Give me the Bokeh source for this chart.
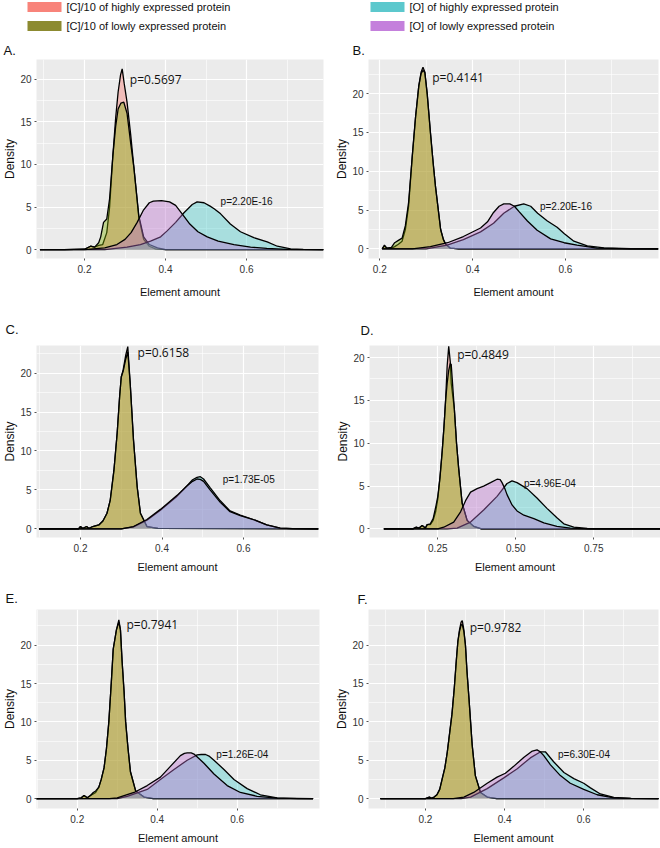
from bokeh.plotting import figure
from bokeh.layouts import column, row
from bokeh.models import Range1d, FixedTicker, PrintfTickFormatter, Label
from bokeh.core.properties import value
from bokeh.embed import file_html
from bokeh.resources import INLINE

SERIES = ["[C]/10 of highly expressed protein", "[C]/10 of lowly expressed protein",
          "[O] of highly expressed protein", "[O] of lowly expressed protein"]
FILL = ["#F8766D", "#7CAE00", "#2CC6C6", "#B96ECD"]
ALPHA = [0.4, 0.4, 0.35, 0.4]
SWATCH = ["#F8837A", "#8C8A30", "#5CC8CD", "#C480DC"]

# ---------------- Panel A ----------------
a_ch_x = [0.09, 0.15, 0.20, 0.215, 0.225, 0.235, 0.245, 0.255, 0.262, 0.27, 0.277, 0.283, 0.289, 0.293, 0.298, 0.305, 0.314, 0.322, 0.334, 0.346, 0.36, 0.375, 0.40, 0.79]
a_ch_y = [0, 0, 0.05, 0.4, 0.3, 0.5, 0.6, 2.0, 5.0, 11.0, 15.5, 18.5, 20.5, 21.2, 19.5, 17.3, 13.5, 9.6, 3.8, 1.2, 0.4, 0.1, 0, 0]
a_cl_x = [0.09, 0.15, 0.20, 0.215, 0.225, 0.235, 0.24, 0.247, 0.255, 0.262, 0.27, 0.277, 0.283, 0.29, 0.297, 0.305, 0.314, 0.322, 0.334, 0.346, 0.36, 0.38, 0.40, 0.79]
a_cl_y = [0, 0, 0.05, 0.4, 0.3, 0.8, 1.5, 3.2, 3.6, 6.0, 11.0, 14.5, 16.5, 17.2, 17.3, 16.0, 12.5, 9.6, 4.0, 1.5, 0.6, 0.2, 0, 0]
a_oh_x = [0.09, 0.25, 0.305, 0.338, 0.363, 0.388, 0.404, 0.425, 0.445, 0.466, 0.478, 0.495, 0.51, 0.52, 0.536, 0.56, 0.585, 0.618, 0.651, 0.676, 0.709, 0.74, 0.79]
a_oh_y = [0, 0, 0.3, 0.6, 1.0, 1.5, 2.2, 3.2, 4.3, 5.3, 5.6, 5.5, 5.1, 4.8, 4.2, 3.0, 2.1, 1.4, 0.9, 0.4, 0.1, 0.02, 0]
a_ol_x = [0.09, 0.2, 0.25, 0.28, 0.3, 0.315, 0.33, 0.345, 0.36, 0.37, 0.39, 0.41, 0.425, 0.441, 0.46, 0.48, 0.503, 0.53, 0.569, 0.61, 0.65, 0.7, 0.79]
a_ol_y = [0, 0, 0.2, 0.6, 1.2, 2.0, 3.2, 4.6, 5.5, 5.7, 5.75, 5.6, 5.2, 4.2, 3.0, 2.1, 1.5, 1.0, 0.6, 0.3, 0.15, 0.03, 0]

# ---------------- Panel B ----------------
b_c_x = [0.205, 0.21, 0.215, 0.225, 0.232, 0.24, 0.248, 0.255, 0.262, 0.27, 0.277, 0.284, 0.289, 0.293, 0.297, 0.302, 0.309, 0.315, 0.32, 0.326, 0.331, 0.337, 0.342, 0.352, 0.37, 0.8]
b_ch_y = [0, 0.4, 0.1, 0.1, 0.3, 0.6, 1.0, 2.5, 5.5, 12, 17, 21, 22.8, 23.4, 22.8, 20, 15, 11, 8, 5, 2.5, 1.2, 0.6, 0.1, 0, 0]
b_cl_y = [0, 0.5, 0.1, 0.2, 0.8, 1.1, 1.4, 3.0, 6.0, 12, 17, 21, 22.6, 23.0, 22.7, 20, 15, 11, 8, 5, 2.5, 1.2, 0.6, 0.1, 0, 0]
b_oh_x = [0.205, 0.3, 0.345, 0.38, 0.417, 0.445, 0.467, 0.49, 0.51, 0.525, 0.54, 0.561, 0.582, 0.597, 0.618, 0.647, 0.683, 0.74, 0.8]
b_oh_y = [0, 0, 0.5, 1.2, 2.2, 3.3, 4.6, 5.5, 5.8, 5.5, 4.6, 3.6, 2.8, 2.0, 1.0, 0.4, 0.15, 0.03, 0]
b_ol_x = [0.205, 0.27, 0.309, 0.346, 0.38, 0.417, 0.432, 0.445, 0.457, 0.467, 0.48, 0.49, 0.5, 0.518, 0.539, 0.568, 0.597, 0.625, 0.668, 0.74, 0.8]
b_ol_y = [0, 0, 0.3, 0.8, 1.6, 2.7, 3.5, 4.7, 5.5, 5.8, 5.8, 5.5, 4.8, 3.6, 2.4, 1.3, 0.8, 0.5, 0.1, 0.02, 0]

# ---------------- Panel C ----------------
c_c_x = [0.098, 0.195, 0.2, 0.205, 0.215, 0.22, 0.23, 0.245, 0.255, 0.265, 0.273, 0.282, 0.29, 0.296, 0.3, 0.305, 0.311, 0.316, 0.322, 0.33, 0.339, 0.347, 0.363, 0.39, 0.784]
c_ch_y = [0, 0, 0.3, 0.05, 0.3, 0.05, 0.3, 0.5, 1.0, 2.0, 3.7, 7.5, 12.3, 17, 19.5, 20.5, 22.3, 23.4, 18.6, 11.4, 5.4, 2.0, 0.3, 0.05, 0]
c_cl_y = [0, 0, 0.3, 0.05, 0.3, 0.05, 0.3, 0.5, 1.0, 2.0, 3.7, 7.5, 12.3, 17, 19.5, 20.3, 21.8, 22.7, 18.6, 11.4, 5.4, 2.0, 0.3, 0.05, 0]
c_o_x = [0.098, 0.3, 0.33, 0.363, 0.396, 0.412, 0.437, 0.461, 0.475, 0.486, 0.494, 0.502, 0.518, 0.543, 0.567, 0.592, 0.624, 0.657, 0.69, 0.72, 0.784]
c_oh_y = [0, 0, 0.25, 1.1, 2.4, 3.1, 4.2, 5.5, 6.3, 6.6, 6.7, 6.4, 5.3, 3.6, 2.3, 1.75, 1.2, 0.5, 0.1, 0.02, 0]
c_ol_y = [0, 0, 0.3, 1.2, 2.5, 3.2, 4.3, 5.5, 6.1, 6.4, 6.35, 6.1, 5.0, 3.4, 2.2, 1.7, 1.2, 0.5, 0.1, 0.02, 0]

# ---------------- Panel D ----------------
d_c_x = [0.077, 0.17, 0.18, 0.19, 0.2, 0.21, 0.216, 0.226, 0.235, 0.243, 0.25, 0.257, 0.264, 0.27, 0.275, 0.28, 0.285, 0.29, 0.293, 0.303, 0.31, 0.317, 0.328, 0.344, 0.365, 0.39, 0.965]
d_ch_y = [0, 0, 0.2, 0.1, 0.4, 0.1, 0.5, 0.5, 1.0, 2.0, 3.5, 6, 9, 12, 15, 19, 21.3, 19.5, 17, 14, 10, 7, 3, 1, 0.3, 0, 0]
d_cl_y = [0, 0, 0.2, 0.1, 0.4, 0.1, 0.5, 0.6, 1.2, 2.5, 3.8, 6, 9, 12, 15, 17, 18.5, 19.3, 19.2, 14, 10, 7, 3, 1, 0.3, 0, 0]
d_oh_x = [0.077, 0.28, 0.312, 0.355, 0.397, 0.44, 0.472, 0.488, 0.504, 0.536, 0.568, 0.6, 0.632, 0.654, 0.686, 0.729, 0.8, 0.965]
d_oh_y = [0, 0, 0.1, 0.8, 2.2, 3.8, 5.3, 5.6, 5.4, 4.7, 3.6, 2.4, 1.3, 0.6, 0.2, 0.05, 0, 0]
d_ol_x = [0.077, 0.25, 0.269, 0.301, 0.323, 0.339, 0.355, 0.376, 0.397, 0.419, 0.44, 0.45, 0.456, 0.465, 0.472, 0.488, 0.504, 0.526, 0.558, 0.59, 0.632, 0.675, 0.739, 0.965]
d_ol_y = [0, 0, 0.2, 0.8, 2.0, 3.3, 4.3, 4.7, 5.0, 5.4, 5.8, 5.75, 5.4, 4.7, 4.0, 2.8, 2.1, 1.6, 1.2, 0.7, 0.3, 0.1, 0, 0]

# ---------------- Panel E ----------------
e_c_x = [0.096, 0.2, 0.21, 0.217, 0.225, 0.233, 0.24, 0.246, 0.254, 0.26, 0.267, 0.273, 0.279, 0.285, 0.29, 0.298, 0.304, 0.308, 0.312, 0.317, 0.321, 0.327, 0.333, 0.346, 0.367, 0.39, 0.79]
e_ch_y = [0, 0, 0.1, 0.4, 0.1, 0.4, 0.6, 0.8, 1.5, 2.5, 4, 6.5, 10, 15, 19.5, 22, 23.3, 22, 18, 14, 10, 6.5, 3.5, 1, 0.2, 0, 0]
e_cl_y = [0, 0, 0.1, 0.4, 0.1, 0.4, 0.8, 1.0, 1.5, 2.5, 4, 6.5, 10, 15, 19.5, 22, 23.0, 22, 18, 14, 10, 6.5, 3.5, 1, 0.2, 0, 0]
e_oh_x = [0.096, 0.3, 0.325, 0.375, 0.408, 0.442, 0.475, 0.5, 0.51, 0.521, 0.531, 0.542, 0.567, 0.592, 0.625, 0.658, 0.7, 0.75, 0.79]
e_oh_y = [0, 0, 0.3, 1.2, 2.5, 3.8, 5.0, 5.7, 5.75, 5.75, 5.5, 5.0, 3.8, 2.5, 1.3, 0.5, 0.1, 0.01, 0]
e_ol_x = [0.096, 0.28, 0.3, 0.342, 0.375, 0.408, 0.433, 0.458, 0.468, 0.475, 0.485, 0.492, 0.505, 0.517, 0.542, 0.575, 0.608, 0.65, 0.7, 0.79]
e_ol_y = [0, 0, 0.1, 0.8, 1.7, 2.8, 4.2, 5.6, 5.9, 5.95, 5.95, 5.8, 5.2, 4.6, 3.2, 1.7, 0.8, 0.3, 0.05, 0]

# ---------------- Panel F ----------------
f_c_x = [0.086, 0.2, 0.21, 0.215, 0.222, 0.229, 0.236, 0.242, 0.249, 0.255, 0.261, 0.267, 0.273, 0.278, 0.282, 0.286, 0.29, 0.293, 0.297, 0.301, 0.305, 0.31, 0.318, 0.326, 0.339, 0.356, 0.38, 0.79]
f_ch_y = [0, 0, 0.2, 0.05, 0.2, 0.5, 1.2, 2.5, 4, 6, 8.5, 11, 14.5, 18, 20.5, 22, 23.0, 23.2, 22, 20, 16.5, 13, 7, 3, 0.8, 0.2, 0, 0]
f_cl_y = [0, 0, 0.2, 0.05, 0.2, 0.5, 1.2, 2.5, 4, 6, 8.5, 11, 14.5, 18, 20.5, 21.8, 22.6, 22.7, 21.8, 20, 16.5, 13, 7, 3, 0.8, 0.2, 0, 0]
f_oh_x = [0.086, 0.29, 0.314, 0.356, 0.398, 0.432, 0.465, 0.491, 0.503, 0.524, 0.55, 0.575, 0.6, 0.617, 0.642, 0.676, 0.718, 0.79]
f_oh_y = [0, 0, 0.2, 1.3, 2.7, 3.9, 5.3, 6.1, 6.1, 4.8, 3.4, 2.6, 2.0, 1.4, 0.6, 0.15, 0.03, 0]
f_ol_x = [0.086, 0.27, 0.297, 0.322, 0.356, 0.381, 0.402, 0.423, 0.449, 0.47, 0.482, 0.49, 0.499, 0.516, 0.541, 0.566, 0.6, 0.634, 0.676, 0.72, 0.79]
f_ol_y = [0, 0, 0.2, 0.8, 2.0, 2.8, 3.3, 4.2, 5.4, 6.2, 6.35, 6.1, 5.6, 4.4, 3.0, 2.0, 1.2, 0.5, 0.1, 0.02, 0]

# p-values (C test, O test)
p_labels = {
    "A": ["p=0.5697", "p=2.20E-16"],
    "B": ["p=0.4141", "p=2.20E-16"],
    "C": ["p=0.6158", "p=1.73E-05"],
    "D": ["p=0.4849", "p=4.96E-04"],
    "E": ["p=0.7941", "p=1.26E-04"],
    "F": ["p=0.9782", "p=6.30E-04"],
}

x_ticks_01 = [0.2, 0.4, 0.6]
x_minor_01 = [0.1, 0.3, 0.5, 0.7]
x_ticks_d = [0.25, 0.50, 0.75]
x_minor_d = [0.125, 0.375, 0.625, 0.875]
y_ticks = [0, 5, 10, 15, 20]
y_minor = [2.5, 7.5, 12.5, 17.5, 22.5]

TICK_FONT = "Liberation Sans"
LABEL_FONT = "Liberation Sans"

# geometry: w,h figure size; l,r,t,b borders; toff/tst title offset/standoff; xs x-label standoff
panels = [
    dict(key="A", curves=[(a_ch_x, a_ch_y), (a_cl_x, a_cl_y), (a_oh_x, a_oh_y), (a_ol_x, a_ol_y)],
         xr=(0.0815, 0.790), yr=(-1.04, 22.31), xt=(x_ticks_01, x_minor_01, "%.1f"),
         pxy=[(0.312, 20.0), (0.536, 5.6)],
         geo=dict(w=332, h=262, l=36, r=9, t=19, b=41, toff=-33, tst=4, xs=10)),
    dict(key="B", curves=[(b_c_x, b_ch_y), (b_c_x, b_cl_y), (b_oh_x, b_oh_y), (b_ol_x, b_ol_y)],
         xr=(0.1756, 0.8004), yr=(-1.23, 24.4), xt=(x_ticks_01, x_minor_01, "%.1f"),
         pxy=[(0.313, 22.1), (0.545, 5.5)],
         geo=dict(w=328, h=262, l=36, r=2, t=19, b=41, toff=-16, tst=4, xs=10)),
    dict(key="C", curves=[(c_c_x, c_ch_y), (c_c_x, c_cl_y), (c_o_x, c_oh_y), (c_o_x, c_ol_y)],
         xr=(0.092, 0.784), yr=(-1.11, 23.54), xt=(x_ticks_01, x_minor_01, "%.1f"),
         pxy=[(0.34, 22.6), (0.549, 6.4)],
         geo=dict(w=332, h=275, l=36, r=14, t=45, b=37, toff=-31, tst=18, xs=6)),
    dict(key="D", curves=[(d_c_x, d_ch_y), (d_c_x, d_cl_y), (d_oh_x, d_oh_y), (d_ol_x, d_ol_y)],
         xr=(0.031, 0.964), yr=(-1.0, 21.4), xt=(x_ticks_d, x_minor_d, "%.2f"),
         pxy=[(0.312, 20.4), (0.526, 5.3)],
         geo=dict(w=328, h=275, l=37, r=0, t=45, b=37, toff=-9, tst=16, xs=6)),
    dict(key="E", curves=[(e_c_x, e_ch_y), (e_c_x, e_cl_y), (e_oh_x, e_oh_y), (e_ol_x, e_ol_y)],
         xr=(0.098, 0.806), yr=(-1.29, 24.65), xt=(x_ticks_01, x_minor_01, "%.1f"),
         pxy=[(0.323, 22.7), (0.548, 5.8)],
         geo=dict(w=332, h=271, l=36, r=13, t=34, b=36, toff=-31, tst=7, xs=6)),
    dict(key="F", curves=[(f_c_x, f_ch_y), (f_c_x, f_cl_y), (f_oh_x, f_oh_y), (f_ol_x, f_ol_y)],
         xr=(0.056, 0.789), yr=(-1.29, 24.64), xt=(x_ticks_01, x_minor_01, "%.1f"),
         pxy=[(0.312, 22.3), (0.535, 5.75)],
         geo=dict(w=328, h=271, l=36, r=2, t=34, b=36, toff=-11, tst=5, xs=6)),
]


def make_panel(spec):
    g = spec["geo"]
    p = figure(width=g["w"], height=g["h"], x_range=Range1d(*spec["xr"]), y_range=Range1d(*spec["yr"]),
               output_backend="svg", toolbar_location=None,
               min_border_left=g["l"], min_border_right=g["r"],
               min_border_top=g["t"], min_border_bottom=g["b"])
    p.title.text = spec["key"] + "."
    p.title.text_font = LABEL_FONT
    p.title.text_font_size = "13px"
    p.title.text_font_style = "normal"
    p.title.text_color = "#111111"
    p.title.align = "left"
    p.title.offset = g["toff"]
    p.title.standoff = g["tst"]
    p.background_fill_color = "#EBEBEB"
    p.border_fill_color = "white"
    p.outline_line_color = None

    for (xs, ys), col, al in zip(spec["curves"], FILL, ALPHA):
        p.varea(x=xs, y1=[0] * len(xs), y2=ys, fill_color=col, fill_alpha=al)
        p.line(x=xs, y=ys, line_color="black", line_width=1.3)

    (t1, t2) = p_labels[spec["key"]]
    (x1, y1), (x2, y2) = spec["pxy"]
    p.add_layout(Label(x=x1, y=y1, text=t1, text_font="Open Sans", text_font_size="12px",
                       text_baseline="middle", text_align="left", text_color="#111111"))
    p.add_layout(Label(x=x2, y=y2, text=t2, text_font="Liberation Sans", text_font_size="10px",
                       text_baseline="middle", text_align="left", text_color="#111111"))

    maj, mino, fmt = spec["xt"]
    p.xaxis.ticker = FixedTicker(ticks=maj, minor_ticks=mino)
    p.xaxis.formatter = PrintfTickFormatter(format=fmt)
    p.yaxis.ticker = FixedTicker(ticks=y_ticks, minor_ticks=y_minor)
    p.xaxis.axis_label = "Element amount"
    p.yaxis.axis_label = "Density"
    for ax in (p.xaxis, p.yaxis):
        ax.axis_line_color = None
        ax.major_tick_line_color = "#555555"
        ax.major_tick_out = 2
        ax.major_tick_in = 0
        ax.minor_tick_line_color = None
        ax.major_label_text_font = TICK_FONT
        ax.major_label_text_font_size = "10px"
        ax.major_label_text_color = "#333333"
        ax.axis_label_text_font = LABEL_FONT
        ax.axis_label_text_font_style = "normal"
        ax.axis_label_text_color = "#111111"
    p.xaxis.major_label_standoff = 2
    p.yaxis.major_label_standoff = 1
    p.xaxis.axis_label_text_font_size = "11px"
    p.xaxis.axis_label_standoff = g["xs"]
    p.yaxis.axis_label_text_font_size = "12px"
    p.yaxis.axis_label_standoff = 0
    for grid in (p.xgrid, p.ygrid):
        grid.grid_line_color = "white"
        grid.grid_line_width = 1.2
        grid.minor_grid_line_color = "white"
        grid.minor_grid_line_width = 0.6
    return p


figs = [make_panel(s) for s in panels]

# legend strip (screen-like coordinates, y downwards)
LEG_W, LEG_H = 660, 38
leg = figure(width=LEG_W, height=LEG_H, x_range=Range1d(0, LEG_W), y_range=Range1d(LEG_H, 0),
             output_backend="svg", toolbar_location=None, min_border=0)
leg.axis.visible = False
leg.grid.visible = False
leg.outline_line_color = None
col_left = [27, 27, 370, 370]
row_mid = [6.5, 25.5, 6.5, 25.5]
leg.quad(left=col_left, right=[c + 34 for c in col_left],
         top=[m - 5 for m in row_mid], bottom=[m + 5 for m in row_mid],
         fill_color=SWATCH, line_color=None)
leg.text(x=[c + 39 for c in col_left], y=row_mid, text=SERIES,
         text_font=value(LABEL_FONT), text_font_size="11px", text_baseline="middle",
         text_align="left", text_color="#111111")

layout = column(leg, row(figs[0], figs[1]), row(figs[2], figs[3]), row(figs[4], figs[5]))
open("out.html", "w").write(file_html(layout, INLINE))
